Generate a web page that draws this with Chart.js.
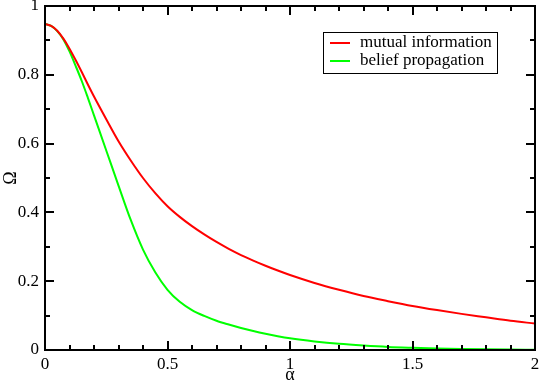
<!DOCTYPE html>
<html>
<head>
<meta charset="utf-8">
<script src="https://cdn.jsdelivr.net/npm/chart.js@4.4.0/dist/chart.umd.min.js"></script>
<style>
  html, body { margin: 0; padding: 0; background: #fff; }
  #wrap { width: 540px; height: 383px; }
</style>
</head>
<body>
<div id="wrap"><canvas id="omegaChart"></canvas></div>
<script>
// alpha values (x axis)
const alpha = [0, 0.025, 0.05, 0.075, 0.1, 0.125, 0.15, 0.175, 0.2, 0.25, 0.3, 0.35, 0.4, 0.45, 0.5,
  0.55, 0.6, 0.65, 0.7, 0.75, 0.8, 0.85, 0.9, 0.95, 1.0, 1.1, 1.2, 1.3, 1.4, 1.5, 1.6, 1.7, 1.8, 1.9, 2.0];

// Omega for each method
const mutualInfo = [0.948, 0.942, 0.928, 0.905, 0.876, 0.843, 0.808, 0.772, 0.737, 0.671, 0.607, 0.551,
  0.50, 0.456, 0.418, 0.387, 0.360, 0.336, 0.314, 0.294, 0.276, 0.260, 0.245, 0.231, 0.218, 0.195,
  0.175, 0.157, 0.142, 0.128, 0.116, 0.105, 0.095, 0.085, 0.077];
const beliefProp = [0.948, 0.942, 0.927, 0.903, 0.868, 0.826, 0.782, 0.733, 0.682, 0.58, 0.478, 0.378,
  0.292, 0.226, 0.175, 0.140, 0.116, 0.099, 0.085, 0.074, 0.064, 0.055, 0.047, 0.040, 0.034, 0.025,
  0.018, 0.013, 0.009, 0.0065, 0.0045, 0.003, 0.002, 0.0013, 0.0008];

const seriesNames = ["mutual information", "belief propagation"];
const xTicks = [0, 0.5, 1, 1.5, 2];
const yTicks = [0, 0.2, 0.4, 0.6, 0.8, 1];

const serif = "'Liberation Serif', 'DejaVu Serif', serif";
Chart.defaults.font.family = serif;
Chart.defaults.color = "#000";

// inward major/minor ticks on all four sides, frame and legend box
const frameTicks = {
  id: "frameTicks",
  afterDraw(chart) {
    const { ctx, chartArea: a, scales } = chart;
    ctx.save();
    ctx.strokeStyle = "#000";
    ctx.lineWidth = 2;
    ctx.strokeRect(a.left, a.top, a.right - a.left, a.bottom - a.top);
    ctx.beginPath();
    for (let i = 0; i <= 20; i++) {
      const px = Math.round(scales.x.getPixelForValue(i / 10));
      const len = i % 5 === 0 ? 9 : 5;
      ctx.moveTo(px, a.bottom); ctx.lineTo(px, a.bottom - len);
      ctx.moveTo(px, a.top); ctx.lineTo(px, a.top + len);
    }
    for (let i = 0; i <= 10; i++) {
      const py = Math.round(scales.y.getPixelForValue(i / 10));
      const len = i % 2 === 0 ? 9 : 5;
      ctx.moveTo(a.left, py); ctx.lineTo(a.left + len, py);
      ctx.moveTo(a.right, py); ctx.lineTo(a.right - len, py);
    }
    ctx.stroke();

    // legend
    const bx = 323, by = 32, bw = 174, bh = 41;
    ctx.lineWidth = 1;
    ctx.strokeRect(bx + 0.5, by + 0.5, bw, bh);
    ctx.font = "17px " + serif;
    ctx.textBaseline = "middle";
    ctx.fillStyle = "#000";
    chart.data.datasets.forEach((ds, i) => {
      const y = by + 11 + i * 18;
      ctx.strokeStyle = ds.borderColor;
      ctx.lineWidth = 2;
      ctx.beginPath();
      ctx.moveTo(330, y); ctx.lineTo(350, y);
      ctx.stroke();
      ctx.fillText(ds.label, 360, y);
    });
    ctx.restore();
  }
};

new Chart(document.getElementById("omegaChart"), {
  type: "line",
  data: {
    datasets: [
      {
        label: seriesNames[0],
        data: alpha.map((x, i) => ({ x, y: mutualInfo[i] })),
        borderColor: "#ff0000",
        borderWidth: 2,
        pointRadius: 0,
        cubicInterpolationMode: "monotone"
      },
      {
        label: seriesNames[1],
        data: alpha.map((x, i) => ({ x, y: beliefProp[i] })),
        borderColor: "#00ff00",
        borderWidth: 2,
        pointRadius: 0,
        cubicInterpolationMode: "monotone"
      }
    ]
  },
  options: {
    responsive: true,
    maintainAspectRatio: false,
    animation: false,
    layout: { padding: { top: 6, right: 5, left: 0, bottom: 0 } },
    plugins: { legend: { display: false }, tooltip: { enabled: false } },
    scales: {
      x: {
        type: "linear",
        min: 0, max: 2,
        afterBuildTicks: (s) => { s.ticks = xTicks.map(v => ({ value: v })); },
        afterFit: (s) => { s.height = 33; s.paddingLeft = 0; s.paddingRight = 0; },
        grid: { display: false, drawTicks: false },
        border: { display: false },
        ticks: { color: "#000", padding: 4, maxRotation: 0, callback: (v) => String(v),
          font: { family: serif, size: 17 } },
        title: { display: true, text: "α", color: "#000", padding: 0,
          font: { family: serif, size: 18, lineHeight: 0.9 } }
      },
      y: {
        min: 0, max: 1,
        afterBuildTicks: (s) => { s.ticks = yTicks.map(v => ({ value: v })); },
        afterFit: (s) => { s.width = 45; s.paddingTop = 0; s.paddingBottom = 0; },
        grid: { display: false, drawTicks: false },
        border: { display: false },
        ticks: { color: "#000", padding: 6, callback: (v) => String(v),
          font: { family: serif, size: 17 } },
        title: { display: true, text: "Ω", color: "#000", padding: 0,
          font: { family: serif, size: 18 } }
      }
    }
  },
  plugins: [frameTicks]
});
</script>
</body>
</html>
